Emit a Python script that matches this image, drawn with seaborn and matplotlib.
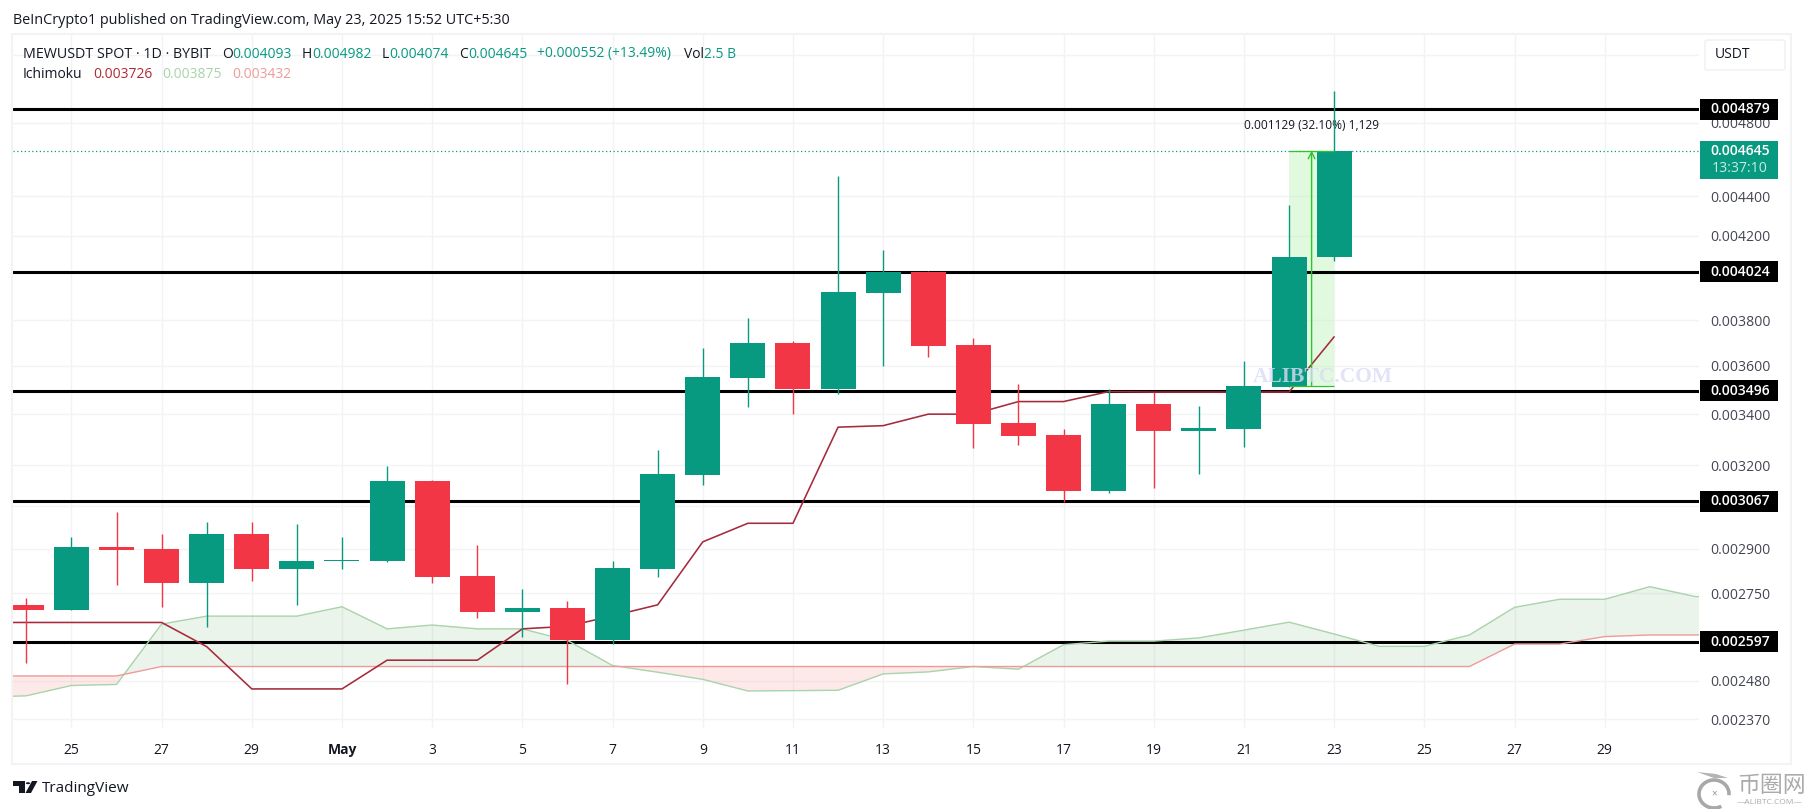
import matplotlib
matplotlib.use('Agg')
import matplotlib.pyplot as plt
from matplotlib.patches import Rectangle, Circle, Polygon, FancyBboxPatch, Ellipse, Arc
from matplotlib.ticker import NullLocator
import pandas as pd
import seaborn as sns

W, H = 1804, 809

# candles, Apr 24 - May 23
candle_start = '2025-04-24'
opens = [0.002713, 0.002697, 0.002906, 0.002899, 0.002785, 0.002951, 0.002832, 0.002859, 0.002859, 0.003142,
         0.002808, 0.002691, 0.002703, 0.002603, 0.002832, 0.003164, 0.003549, 0.003699, 0.003503, 0.003924,
         0.004024, 0.003690, 0.003365, 0.003318, 0.003105, 0.003442, 0.003333, 0.003341, 0.003512, 0.004093]
highs = [0.002735, 0.002941, 0.003028, 0.002951, 0.002994, 0.002994, 0.002984, 0.002941, 0.003198, 0.003146,
         0.002913, 0.002765, 0.002726, 0.002859, 0.003259, 0.003677, 0.003810, 0.003707, 0.004507, 0.004129,
         0.004028, 0.003721, 0.003524, 0.003341, 0.003503, 0.003491, 0.003434, 0.003621, 0.004355, 0.004982]
lows = [0.002534, 0.002695, 0.002776, 0.002707, 0.002642, 0.002791, 0.002711, 0.002829, 0.002853, 0.002785,
        0.002671, 0.002612, 0.002469, 0.002590, 0.002803, 0.003127, 0.003430, 0.003401, 0.003483, 0.003599,
        0.003638, 0.003267, 0.003278, 0.003066, 0.003097, 0.003116, 0.003167, 0.003271, 0.003512, 0.004074]
closes = [0.002697, 0.002906, 0.002896, 0.002785, 0.002951, 0.002832, 0.002859, 0.002862, 0.003142, 0.002805,
          0.002691, 0.002703, 0.002603, 0.002835, 0.003167, 0.003553, 0.003699, 0.003503, 0.003929, 0.004024,
          0.003685, 0.003361, 0.003314, 0.003105, 0.003442, 0.003333, 0.003345, 0.003516, 0.004093, 0.004645]

# ichimoku lines, Apr 23 onwards
conversion = [0.002657, 0.002657, 0.002657, 0.002657, 0.002657, 0.002582, 0.002456, 0.002456, 0.002456, 0.002541,
              0.002541, 0.002541, 0.002637, 0.002645, 0.002678, 0.002713, 0.002923, 0.002988, 0.002988, 0.003348,
              0.003354, 0.003400, 0.003400, 0.003451, 0.003451, 0.003492, 0.003490, 0.003490, 0.003490, 0.003490,
              0.003726]
lead_a = [0.002432, 0.002436, 0.002466, 0.002469, 0.002652, 0.002677, 0.002677, 0.002677, 0.002707, 0.002637,
          0.002649, 0.002637, 0.002637, 0.002601, 0.002525, 0.002505, 0.002484, 0.002450, 0.002451, 0.002452,
          0.002500, 0.002506, 0.002522, 0.002514, 0.002588, 0.002599, 0.002599, 0.002609, 0.002633, 0.002658,
          0.002621, 0.002583, 0.002583, 0.002618, 0.002705, 0.002731, 0.002731, 0.002772, 0.002740, 0.002736]
lead_b = [0.002494, 0.002494, 0.002494, 0.002494, 0.002522, 0.002522, 0.002522, 0.002522, 0.002522, 0.002522,
          0.002522, 0.002522, 0.002522, 0.002522, 0.002522, 0.002522, 0.002522, 0.002522, 0.002522, 0.002522,
          0.002522, 0.002522, 0.002522, 0.002522, 0.002522, 0.002522, 0.002522, 0.002522, 0.002522, 0.002522,
          0.002522, 0.002522, 0.002522, 0.002522, 0.002590, 0.002590, 0.002613, 0.002618, 0.002618, 0.002618]

levels = [0.004879, 0.004024, 0.003496, 0.003067, 0.002597]
last_price = 0.004645
measure_low = 0.003516

price_ticks = [0.0052, 0.0048, 0.0044, 0.0042, 0.0038, 0.0036, 0.0034, 0.0032, 0.00305, 0.0029, 0.00275, 0.00248, 0.00237]
price_labels = ['', '0.004800', '0.004400', '0.004200', '0.003800', '0.003600', '0.003400', '0.003200', '',
                '0.002900', '0.002750', '0.002480', '0.002370']

date_ticks = ['2025-04-25', '2025-04-27', '2025-04-29', '2025-05-01', '2025-05-03', '2025-05-05', '2025-05-07',
              '2025-05-09', '2025-05-11', '2025-05-13', '2025-05-15', '2025-05-17', '2025-05-19', '2025-05-21',
              '2025-05-23', '2025-05-25', '2025-05-27', '2025-05-29']
date_labels = ['25', '27', '29', 'May', '3', '5', '7', '9', '11', '13', '15', '17', '19', '21', '23', '25', '27', '29']

UP = '#089981'
DOWN = '#F23645'
INK = '#131722'
AXIS_INK = '#434651'
CONV = '#A52A3C'
A_COL = '#A9D3AA'
B_COL = '#EF9A9A'
GRID = '#F2F3F5'
TV_FONT = 'Open Sans'

sns.set_theme(style='white')
plt.rcParams['font.family'] = [TV_FONT, 'DejaVu Sans']

fig = plt.figure(figsize=(W / 100, H / 100), dpi=100, facecolor='white')
ax = fig.add_axes([13 / W, 1 - 728 / H, 1686 / W, 694 / H])
ax.set_yscale('log')

candle_dates = pd.date_range(candle_start, periods=len(opens))
ichi_dates = pd.date_range('2025-04-23', periods=len(lead_a))
conv_dates = pd.date_range('2025-04-23', periods=len(conversion))

df = pd.DataFrame({'date': candle_dates, 'open': opens, 'high': highs, 'low': lows, 'close': closes})
df['color'] = [UP if c >= o else DOWN for o, c in zip(df['open'], df['close'])]
cloud = pd.DataFrame({'date': ichi_dates, 'a': lead_a, 'b': lead_b})
conv_df = pd.DataFrame({'date': conv_dates, 'conv': conversion})

# cloud
ax.fill_between(cloud['date'], cloud['a'], cloud['b'], where=cloud['a'] >= cloud['b'], interpolate=True,
                color='#43A047', alpha=0.11, linewidth=0, zorder=1)
ax.fill_between(cloud['date'], cloud['a'], cloud['b'], where=cloud['a'] <= cloud['b'], interpolate=True,
                color='#F44336', alpha=0.11, linewidth=0, zorder=1)

# measure tool background
measure_dates = pd.to_datetime(['2025-05-22', '2025-05-23'])
ax.fill_between(measure_dates, measure_low, last_price, color='#BDF5B8', alpha=0.45, linewidth=0, zorder=1.5)

for lvl in levels:
    ax.axhline(lvl, color='black', linewidth=2.2, zorder=2)
ax.axhline(last_price, color=UP, linewidth=0.9, linestyle=(0, (1, 2)), zorder=2)

sns.lineplot(data=cloud, x='date', y='a', ax=ax, color=A_COL, linewidth=1.0, zorder=2.2)
sns.lineplot(data=cloud, x='date', y='b', ax=ax, color=B_COL, linewidth=1.0, zorder=2.2)
sns.lineplot(data=conv_df, x='date', y='conv', ax=ax, color=CONV, linewidth=1.15, zorder=2.5)

# candles
ax.vlines(df['date'], df['low'], df['high'], colors=df['color'], linewidth=1.0, zorder=3.5)
bottoms = df[['open', 'close']].min(axis=1)
heights = (df['open'] - df['close']).abs()
ax.bar(df['date'], heights, bottom=bottoms, width=0.776, color=df['color'], linewidth=0, zorder=4)

# measure arrow
ax.hlines([last_price, measure_low], measure_dates[0], measure_dates[1], color='#2CC52C', linewidth=0.9, zorder=5)
mid = measure_dates[0] + pd.Timedelta(hours=12)
ax.annotate('', xy=(mid, last_price), xytext=(mid, measure_low), zorder=5,
            arrowprops=dict(arrowstyle='->', color='#2CC52C', lw=1.0, shrinkA=0, shrinkB=0, mutation_scale=12))

ax.set_xlim(pd.Timestamp('2025-04-25') - pd.Timedelta(days=1.295), pd.Timestamp('2025-04-25') + pd.Timedelta(days=36.09))
ax.set_ylim(0.002345, 0.005332)

ax.set_xlabel('')
ax.set_ylabel('')
ax.yaxis.tick_right()
ax.yaxis.set_minor_locator(NullLocator())
ax.set_yticks(price_ticks)
ax.set_yticklabels(price_labels, color=AXIS_INK, fontsize=10.1)
ax.set_xticks(pd.to_datetime(date_ticks))
ax.set_xticklabels(date_labels, color=INK, fontsize=10)
ax.xaxis.set_minor_locator(NullLocator())
for t in ax.get_xticklabels():
    if t.get_text() == 'May':
        t.set_fontweight('bold')
ax.tick_params(axis='y', length=0, pad=8)
ax.tick_params(axis='x', length=0, pad=11)
ax.grid(True, color=GRID, linewidth=1)
ax.set_axisbelow(True)
sns.despine(ax=ax, left=True, bottom=True, right=True, top=True)

to_axes = ax.transData + ax.transAxes.inverted()

for lvl in levels:
    yf = to_axes.transform((ax.get_xlim()[0], lvl))[1]
    hf = 21 / 694
    ax.add_patch(Rectangle((1687 / 1686, yf - hf / 2), 78 / 1686, hf, transform=ax.transAxes,
                           facecolor='black', edgecolor='none', clip_on=False, zorder=6))
    ax.text(1727 / 1686, yf, f'{lvl:.6f}', transform=ax.transAxes, color='white', fontsize=10.1, fontweight='semibold',
            ha='center', va='center', zorder=7, clip_on=False)

yf = to_axes.transform((ax.get_xlim()[0], last_price))[1]
ax.add_patch(Rectangle((1687 / 1686, yf - 28 / 694), 78 / 1686, 38 / 694, transform=ax.transAxes,
                       facecolor=UP, edgecolor='none', clip_on=False, zorder=6))
ax.text(1727 / 1686, yf, f'{last_price:.6f}', transform=ax.transAxes, color='white', fontsize=10.1, fontweight='semibold',
        ha='center', va='center', zorder=7, clip_on=False)
ax.text(1727 / 1686, yf - 18 / 694, '13:37:10', transform=ax.transAxes, color='#C8EEE3', fontsize=10.1,
        ha='center', va='center', zorder=7, clip_on=False)

# measure label and watermark
ax.annotate('0.001129 (32.10%) 1,129', xy=(mid, last_price), xytext=(0, 18), textcoords='offset points',
            ha='center', va='center', fontsize=8.6, color=INK, zorder=3)
ax.annotate('ALIBTC.COM', xy=(pd.Timestamp('2025-05-22 18:00'), measure_low), xytext=(0, 6.5),
            textcoords='offset points', ha='center', va='center', fontsize=15.5, fontweight='bold',
            family='Liberation Serif', color='#DADCF7', alpha=0.8, zorder=6)


def ftext(x, y, s, **kw):
    kw.setdefault('va', 'center')
    kw.setdefault('fontsize', 10)
    kw.setdefault('color', INK)
    return fig.text(x / W, 1 - y / H, s, **kw)


def px_poly(points, **kw):
    pts = [(x / W, 1 - y / H) for x, y in points]
    fig.add_artist(Polygon(pts, transform=fig.transFigure, **kw))


# outer frame
fig.add_artist(Rectangle((12 / W, 1 - 764 / H), 1779 / W, 730 / H, transform=fig.transFigure,
                         fill=False, edgecolor=GRID, linewidth=1.5))

ftext(13, 20, 'BeInCrypto1 published on TradingView.com, May 23, 2025 15:52 UTC+5:30', fontsize=10.35)

ftext(23, 54, 'MEWUSDT SPOT · 1D · BYBIT', fontsize=10.25)
legend_parts = [(222, 'O', INK), (232.5, '0.004093', UP), (302, 'H', INK), (312, '0.004982', UP),
                (381.5, 'L', INK), (389, '0.004074', UP), (459, 'C', INK), (468, '0.004645', UP),
                (537, '+0.000552 (+13.49%)', UP), (684, 'Vol', INK), (704, '2.5 B', UP)]
for x, s, c in legend_parts:
    ftext(x, 54, s, color=c)
ftext(23, 75, 'Ichimoku')
ftext(93, 75, '0.003726', color='#B22833')
ftext(162, 75, '0.003875', color=A_COL)
ftext(232, 75, '0.003432', color=B_COL)

# currency button
fig.add_artist(FancyBboxPatch((1705 / W, 1 - 70 / H), 80 / W, 30 / H, boxstyle='round,pad=0,rounding_size=0.002',
                              transform=fig.transFigure, facecolor='white', edgecolor=GRID, linewidth=1.3))
ftext(1715, 55, 'USDT', fontsize=10, color=INK)

# TradingView logo + name
px_poly([(13.4, 781), (24.5, 781), (24.5, 793), (19, 793), (19, 785.5), (13.4, 785.5)], facecolor=INK, edgecolor='none')
fig.add_artist(Circle((28 / W, 1 - 783.2 / H), 2.2 / W, transform=fig.transFigure, facecolor=INK, edgecolor='none'))
px_poly([(32, 781), (37.5, 781), (31, 793), (25.5, 793)], facecolor=INK, edgecolor='none')
ftext(42, 788, 'TradingView', fontsize=11, color=INK)

# site watermark bottom right
fig.add_artist(Arc((1714 / W, 1 - 794 / H), 30 / W, 28 / H, theta1=-10, theta2=285, transform=fig.transFigure,
                   edgecolor='#A8A8A8', linewidth=2.6))
px_poly([(1697, 772), (1716, 774), (1728, 778), (1714, 778)], facecolor='#B4B4B4', edgecolor='none')
ftext(1714, 794, '×', ha='center', fontsize=7, color='#8E8E8E')
ftext(1737, 785, '币圈网', fontsize=16.5, color='#ABABAB', family=['Noto Sans CJK SC', 'DejaVu Sans'])
ftext(1770, 803, '—ALIBTC.COM—', ha='center', fontsize=6, color='#ABABAB')

fig.savefig('out.png', dpi=100, facecolor='white')
